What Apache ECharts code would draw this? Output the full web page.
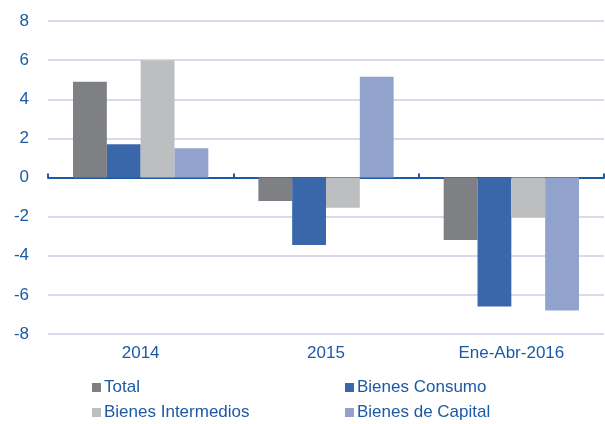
<!DOCTYPE html>
<html>
<head>
<meta charset="utf-8">
<script src="https://cdn.jsdelivr.net/npm/echarts@6/dist/echarts.min.js"></script>
<style>
  html, body { margin: 0; padding: 0; background: #fff; }
  #main { width: 605px; height: 424px; }
</style>
</head>
<body>
<div id="main"></div>
<script>
// datos
var categorias = ['2014', '2015', 'Ene-Abr-2016'];
var total = [4.9, -1.2, -3.2];
var consumo = [1.7, -3.45, -6.6];
var intermedios = [6.0, -1.55, -2.05];
var capital = [1.5, 5.15, -6.8];
var nombres = ['Total', 'Bienes Consumo', 'Bienes Intermedios', 'Bienes de Capital'];
var colores = ['#7f8084', '#3a67a9', '#bdbebf', '#91a3cd'];

var azul = '#1c5aa5';
var fuente = 'Liberation Sans, Arial, sans-serif';

var myChart = echarts.init(document.getElementById('main'));

function serie(i, datos) {
	return {
		name: nombres[i],
		type: 'bar',
		xAxisIndex: 0,
		data: datos,
		barGap: 0,
		barCategoryGap: '27%',
		itemStyle: { color: colores[i] }
	};
}

// una leyenda por elemento (dos columnas)
function leyenda(i, x, y) {
	return {
		left: x, top: y,
		itemWidth: 9, itemHeight: 9, icon: 'rect', itemGap: 4,
		data: [nombres[i]],
		textStyle: { color: azul, fontSize: 17, fontFamily: fuente, padding: [0, 0, 0, -2] }
	};
}

var option = {
	animation: false,
	textStyle: { fontFamily: fuente },
	grid: { left: 48, right: 1, top: 21, bottom: 90 },
	legend: [
		leyenda(0, 87, 374),
		leyenda(2, 87, 399),
		leyenda(1, 340, 374),
		leyenda(3, 340, 399)
	],
	xAxis: [
		{
			type: 'category',
			data: categorias,
			axisLine: { show: false, onZero: false },
			axisTick: { show: false },
			axisLabel: { color: azul, fontSize: 17, margin: 11, fontFamily: fuente }
		},
		{
			type: 'category',
			data: categorias,
			axisLine: { onZero: true, onZeroAxisIndex: 0, lineStyle: { color: azul, width: 2 } },
			axisTick: { show: true, length: 4, lineStyle: { color: azul, width: 2 } },
			axisLabel: { show: false }
		}
	],
	yAxis: {
		type: 'value',
		min: -8, max: 8, interval: 2,
		axisLine: { show: false },
		axisTick: { show: false },
		axisLabel: { color: azul, fontSize: 17, margin: 19, fontFamily: fuente },
		splitLine: { lineStyle: { color: '#c8cfe4', width: 1.5 } }
	},
	series: [
		serie(0, total),
		serie(1, consumo),
		serie(2, intermedios),
		serie(3, capital)
	]
};
myChart.setOption(option);
</script>
</body>
</html>
